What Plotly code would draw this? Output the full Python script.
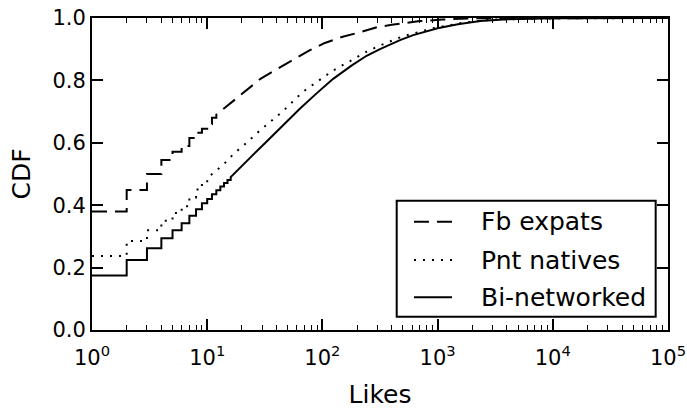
import plotly.graph_objects as go

# Fb expats (dashed)
fb_x = [1, 2, 3, 4, 5, 6, 7, 8, 9, 10, 11, 12, 14, 18, 22, 29, 34, 49, 78, 105, 150, 205, 300, 400,
        700, 1100, 2000, 100000]
fb_y = [0.38, 0.449, 0.50, 0.545, 0.571, 0.59, 0.615, 0.632, 0.645, 0.66, 0.68, 0.69, 0.71, 0.745, 0.77,
        0.805, 0.82, 0.855, 0.897, 0.92, 0.94, 0.953, 0.971, 0.978, 0.99, 0.995, 0.999, 1.0]

# Pnt natives (dotted)
pn_x = [1, 2, 3, 4, 5, 6, 7, 8, 9, 10, 12, 14, 17, 22, 28, 45, 68, 90, 124, 180, 242, 316, 505, 910,
        1660, 3000, 10000, 100000]
pn_y = [0.237, 0.285, 0.32, 0.35, 0.375, 0.397, 0.425, 0.45, 0.47, 0.487, 0.51, 0.532, 0.565, 0.60, 0.636,
        0.70, 0.764, 0.795, 0.832, 0.865, 0.892, 0.912, 0.942, 0.967, 0.985, 0.995, 0.999, 1.0]

# Bi-networked (solid)
bi_x = [1, 2, 3, 4, 5, 6, 7, 8, 9, 10, 11, 12, 13, 14, 15, 16, 18, 20, 24, 33, 45, 64, 90, 124, 180, 242,
        316, 472, 614, 1000, 1500, 2340, 4000, 10000, 100000]
bi_y = [0.175, 0.224, 0.262, 0.294, 0.32, 0.342, 0.366, 0.387, 0.406, 0.42, 0.435, 0.448, 0.46, 0.471, 0.481,
        0.49, 0.508, 0.525, 0.555, 0.605, 0.655, 0.71, 0.76, 0.805, 0.848, 0.879, 0.9, 0.929, 0.945, 0.967,
        0.98, 0.99, 0.996, 0.999, 1.0]

series_names = ["Fb expats", "Pnt natives", "Bi-networked"]
step_limits = [12, 10, 16]          # integer "Likes" values drawn as CDF steps

x_tickvals = [1, 10, 100, 1000, 10000, 100000]
x_ticktext = ["10<sup>0</sup>", "10<sup>1</sup>", "10<sup>2</sup>", "10<sup>3</sup>", "10<sup>4</sup>", "10<sup>5</sup>"]
y_tickvals = [0.0, 0.2, 0.4, 0.6, 0.8, 1.0]

FONT = "DejaVu Sans"
DASHES = ["15px,8px", "2px,7px", "solid"]


def ecdf_path(xs, ys, step_until):
    """Sorted-sample CDF: vertical jumps at integer values, smooth beyond."""
    px, py = [], []
    for i, (x, y) in enumerate(zip(xs, ys)):
        if i > 0 and x <= step_until:
            px.append(x)
            py.append(ys[i - 1])
        px.append(x)
        py.append(y)
    return px, py


fig = go.Figure()
for (xs, ys), name, lim, dash in zip([(fb_x, fb_y), (pn_x, pn_y), (bi_x, bi_y)],
                                     series_names, step_limits, DASHES):
    px, py = ecdf_path(xs, ys, lim)
    fig.add_trace(go.Scatter(x=px, y=py, mode="lines", name=name, showlegend=False,
                             line=dict(color="black", width=2, dash=dash)))

# Legend drawn as a boxed key in plot-area coordinates
L_X0, L_X1, L_Y0, L_Y1 = 0.529, 0.9786, 0.0426, 0.4144
SAMPLE_X0, SAMPLE_X1, TEXT_X = 0.559, 0.625, 0.672
ROW_Y = [0.347, 0.224, 0.105]

shapes = [dict(type="rect", xref="paper", yref="paper", x0=L_X0, x1=L_X1, y0=L_Y0, y1=L_Y1,
               line=dict(color="black", width=2), fillcolor="white", layer="above")]
annotations = []
for name, dash, ry in zip(series_names, DASHES, ROW_Y):
    shapes.append(dict(type="line", xref="paper", yref="paper", x0=SAMPLE_X0, x1=SAMPLE_X1, y0=ry, y1=ry,
                       line=dict(color="black", width=2, dash=dash), layer="above"))
    annotations.append(dict(text=name, xref="paper", yref="paper", x=TEXT_X, y=ry,
                            xanchor="left", yanchor="middle", showarrow=False,
                            font=dict(family=FONT, size=25, color="black")))

fig.update_layout(
    width=687, height=410,
    margin=dict(l=92, r=19, t=18, b=80, autoexpand=False),
    paper_bgcolor="white", plot_bgcolor="white",
    font=dict(family=FONT, size=21, color="black"),
    showlegend=False,
    shapes=shapes, annotations=annotations,
)
fig.update_xaxes(
    type="log", range=[0, 5], automargin=False,
    tickvals=x_tickvals, ticktext=x_ticktext,
    ticks="inside", ticklen=11, tickwidth=1.5, tickcolor="black",
    minor=dict(ticks="inside", ticklen=5, tickwidth=1, tickcolor="black", dtick="D1", showgrid=False),
    showline=True, linecolor="black", linewidth=2, mirror="allticks",
    showgrid=False, zeroline=False, ticklabelstandoff=8,
    title=dict(text="Likes", font=dict(family=FONT, size=25), standoff=16),
    tickfont=dict(family=FONT, size=21),
)
fig.update_yaxes(
    range=[0, 1], tickvals=y_tickvals, tickformat=".1f", automargin=False,
    ticks="inside", ticklen=11, tickwidth=1.5, tickcolor="black",
    showline=True, linecolor="black", linewidth=2, mirror="allticks",
    showgrid=False, zeroline=False,
    title=dict(text="CDF", font=dict(family=FONT, size=25), standoff=15),
    tickfont=dict(family=FONT, size=21),
)

fig.write_html("out.html")
